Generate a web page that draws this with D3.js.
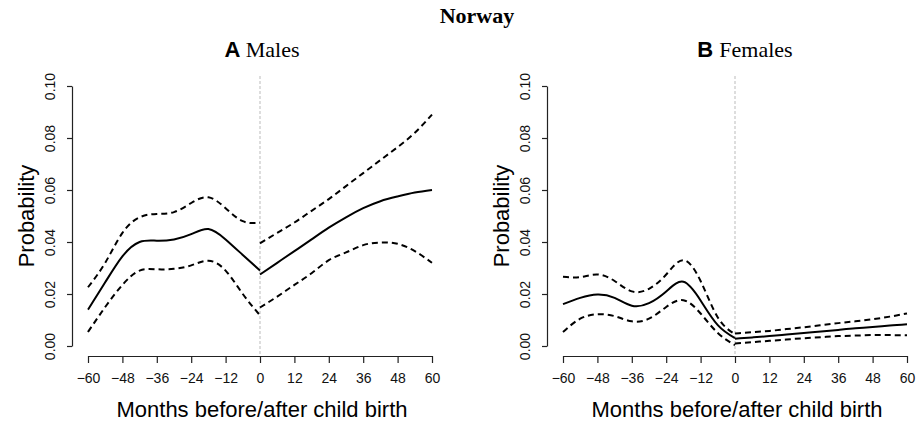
<!DOCTYPE html>
<html>
<head>
<meta charset="utf-8">
<script src="https://cdn.jsdelivr.net/npm/d3@7"></script>
<style>
  body { margin: 0; background: #fff; }
  svg { display: block; }
  .axis path, .axis line { stroke: #222; stroke-width: 1.2; }
  .axis text { font-family: "Liberation Sans", Arial, sans-serif; font-size: 14px; fill: #111; }
</style>
</head>
<body>
<svg id="chart" width="921" height="425"></svg>
<script>
// months for the two fitted segments (before and after birth)
var monthsBefore = [-60, -54, -48, -42, -36, -30, -24, -18, -12, -6, 0];
var monthsAfter = [0, 6, 12, 18, 24, 30, 36, 42, 48, 54, 60];
var xTicks = [-60, -48, -36, -24, -12, 0, 12, 24, 36, 48, 60];
var yTicks = [0, 0.02, 0.04, 0.06, 0.08, 0.10];

// A Males
var maleFitBefore   = [0.014, 0.0245, 0.0345, 0.040, 0.0405, 0.041, 0.043, 0.045, 0.041, 0.035, 0.029];
var maleUpperBefore = [0.0226, 0.032, 0.0435, 0.0495, 0.0508, 0.0515, 0.055, 0.0572, 0.053, 0.048, 0.0474];
var maleLowerBefore = [0.0054, 0.015, 0.0235, 0.029, 0.0295, 0.0297, 0.031, 0.0328, 0.029, 0.020, 0.0118];
var maleFitAfter    = [0.0275, 0.032, 0.0365, 0.041, 0.0455, 0.0495, 0.053, 0.0557, 0.0575, 0.059, 0.060];
var maleUpperAfter  = [0.0395, 0.0435, 0.0475, 0.052, 0.0565, 0.0615, 0.0665, 0.0715, 0.0765, 0.082, 0.089];
var maleLowerAfter  = [0.0148, 0.019, 0.0235, 0.028, 0.033, 0.036, 0.0388, 0.0398, 0.0393, 0.0365, 0.032];

// B Females
var femaleFitBefore   = [0.0161, 0.0185, 0.0198, 0.0185, 0.0155, 0.0165, 0.021, 0.0247, 0.0175, 0.008, 0.003];
var femaleUpperBefore = [0.0266, 0.0265, 0.0275, 0.025, 0.021, 0.022, 0.0275, 0.033, 0.025, 0.011, 0.0045];
var femaleLowerBefore = [0.0054, 0.0105, 0.0122, 0.0115, 0.0095, 0.0105, 0.015, 0.0176, 0.0125, 0.005, 0.0003];
var femaleFitAfter    = [0.0028, 0.0033, 0.0038, 0.0044, 0.0050, 0.0056, 0.0062, 0.0068, 0.0073, 0.0079, 0.0084];
var femaleUpperAfter  = [0.0048, 0.0053, 0.0058, 0.0065, 0.0072, 0.0080, 0.0088, 0.0095, 0.0103, 0.0113, 0.0125];
var femaleLowerAfter  = [0.0010, 0.0015, 0.0020, 0.0025, 0.0030, 0.0034, 0.0038, 0.0040, 0.0042, 0.0042, 0.0041];

var svg = d3.select('#chart');
var sans = '"Liberation Sans", Arial, sans-serif',
    serif = '"Liberation Serif", "Times New Roman", serif';

svg.append('text')
    .attr('x', 477).attr('y', 23)
    .attr('text-anchor', 'middle')
    .style('font-family', serif).style('font-weight', 'bold').style('font-size', '22px')
    .text('Norway');

function panel(opts) {
    // plot region, R style: axes sit on the edge of the region
    var x = d3.scaleLinear().domain([-60, 60]).range([opts.left + 16, opts.left + 360]);
    var y = d3.scaleLinear().domain([0, 0.10]).range([346, 86]);
    var g = svg.append('g');

    // panel title: bold sans letter + serif word
    var t = g.append('text')
        .attr('x', opts.titleX).attr('y', 57)
        .attr('text-anchor', 'middle')
        .style('font-size', '22px');
    t.append('tspan').style('font-family', sans).style('font-weight', 'bold').text(opts.letter + ' ');
    t.append('tspan').style('font-family', serif).text(opts.label);

    // reference line at birth
    g.append('line')
        .attr('x1', x(0)).attr('x2', x(0))
        .attr('y1', 76).attr('y2', 356)
        .attr('stroke', '#bbb').attr('stroke-width', 1)
        .attr('stroke-dasharray', '3,2');

    var yAxis = g.append('g')
        .attr('class', 'axis')
        .attr('transform', 'translate(' + opts.left + ',0)')
        .call(d3.axisLeft(y).tickValues(yTicks).tickSize(5).tickSizeOuter(0)
            .tickFormat(d3.format('.2f')));
    yAxis.selectAll('text')
        .attr('x', 0).attr('y', -17).attr('dy', 0)
        .attr('text-anchor', 'middle')
        .attr('transform', 'rotate(-90)');

    var xAxis = g.append('g')
        .attr('class', 'axis')
        .attr('transform', 'translate(0,356)')
        .call(d3.axisBottom(x).tickValues(xTicks).tickSize(7).tickSizeOuter(0)
            .tickFormat(d3.format('d')));
    xAxis.selectAll('text').attr('y', 27).attr('dy', 0);

    g.append('text')
        .attr('transform', 'translate(' + (opts.left - 38) + ',216) rotate(-90)')
        .attr('text-anchor', 'middle')
        .style('font-family', sans).style('font-size', '22px')
        .text('Probability');

    g.append('text')
        .attr('x', x(0) + 2).attr('y', 417)
        .attr('text-anchor', 'middle')
        .style('font-family', sans).style('font-size', '22px')
        .text('Months before/after child birth');

    var line = d3.line()
        .x(function(d) { return x(d[0]); })
        .y(function(d) { return y(d[1]); })
        .curve(d3.curveNatural);

    function draw(months, vals, dashed) {
        g.append('path')
            .datum(d3.zip(months, vals))
            .attr('d', line)
            .attr('fill', 'none')
            .attr('stroke', '#000')
            .attr('stroke-width', 2)
            .attr('stroke-dasharray', dashed ? '6,4' : null);
    }

    draw(monthsBefore, opts.fitB, false);
    draw(monthsBefore, opts.upB, true);
    draw(monthsBefore, opts.loB, true);
    draw(monthsAfter, opts.fitA, false);
    draw(monthsAfter, opts.upA, true);
    draw(monthsAfter, opts.loA, true);
}

panel({ left: 72, titleX: 262, letter: 'A', label: 'Males',
    fitB: maleFitBefore, upB: maleUpperBefore, loB: maleLowerBefore,
    fitA: maleFitAfter, upA: maleUpperAfter, loA: maleLowerAfter });

panel({ left: 547, titleX: 745, letter: 'B', label: 'Females',
    fitB: femaleFitBefore, upB: femaleUpperBefore, loB: femaleLowerBefore,
    fitA: femaleFitAfter, upA: femaleUpperAfter, loA: femaleLowerAfter });
</script>
</body>
</html>
